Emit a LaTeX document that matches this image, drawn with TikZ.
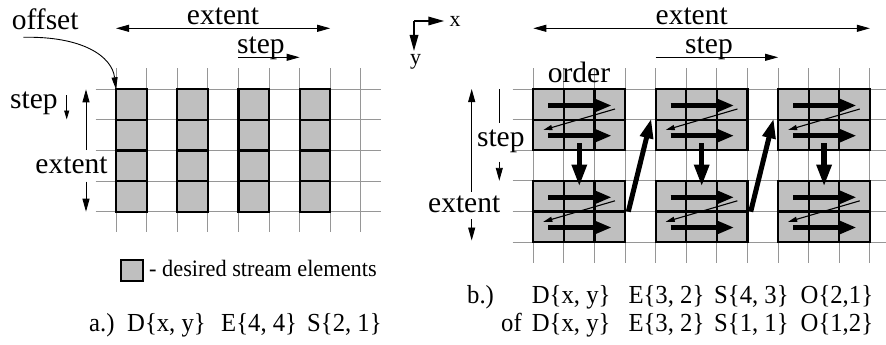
\documentclass[tikz,border=0pt]{standalone}
\usepackage{fontspec}
\setmainfont{Liberation Serif}
\newfontfamily\legfont[FakeStretch=0.95]{Liberation Serif}
\newfontfamily\capfont[FakeStretch=0.95]{Liberation Serif}
\usetikzlibrary{arrows.meta}
\definecolor{cellgray}{RGB}{191,191,191}
\definecolor{gridgray}{RGB}{150,150,150}
\tikzset{
  gridline/.style={draw=gridgray, line width=0.9pt},
  cellbox/.style={fill=cellgray, draw=black, line width=2.2pt},
  dimarrow/.style={line width=0.9pt, arrows={-Triangle[length=13pt,width=7pt]}},
  dimboth/.style={line width=0.9pt, arrows={Triangle[length=13pt,width=7pt]-Triangle[length=13pt,width=7pt]}},
  thickh/.style={line width=4.5pt, arrows={-Triangle[length=17pt,width=12.5pt]}},
  thickv/.style={line width=5.5pt, arrows={-Triangle[length=22pt,width=14pt]}},
  thind/.style={line width=1.1pt, arrows={-Triangle[length=9pt,width=5pt]}},
  axarrow/.style={line width=1.7pt, arrows={-Triangle[length=16pt,width=8.5pt]}},
  lbl/.style={inner sep=0pt, font=\fontsize{29.5}{32}\selectfont},
  axlbl/.style={inner sep=0pt, font=\fontsize{22}{24}\selectfont},
  captxt/.style={inner sep=0pt, anchor=base west, font=\capfont\fontsize{26}{28}\selectfont},
  legtxt/.style={inner sep=0pt, anchor=base west, font=\legfont\fontsize{23.5}{25}\selectfont},
}
\begin{document}
\begin{tikzpicture}[x=1pt,y=-1pt]
\useasboundingbox (0,0) rectangle (886,345);

% ---------- a.) left panel ----------
\foreach \k in {0,...,8}
  \draw[gridline] ({116+30.6*\k},68.3) -- ++(0,163.4);
\foreach \j in {0,...,4}
  \draw[gridline] (95.7,{89.3+30.6*\j}) -- (381,{89.3+30.6*\j});
\foreach \c in {0,2,4,6}
  \foreach \r in {0,...,3}
    \draw[cellbox] ({116+30.6*\c},{89.3+30.6*\r}) rectangle ++(30.6,30.6);

\node[lbl, anchor=base] (extTopL) at (223,25) {extent};
\draw[dimboth] (116,28.3) -- (330.2,28.3);
\node[lbl, anchor=base west] (stepTopL) at (237,53.3) {step};
\draw[dimarrow] (238.4,57.3) -- (299.6,57.3);

\node[lbl, anchor=base west] (offset) at (11.7,30) {offset};
\draw[line width=0.9pt, arrows={-Triangle[length=12pt,width=6pt]}]
  (23.3,37.3) .. controls (82,36) and (112,56) .. (116,89.3);

\node[lbl, anchor=base west] (stepL) at (10,108.3) {step};
\draw[line width=0.9pt, arrows={-Triangle[length=9pt,width=5pt]}] (66.7,95) -- (66.7,119.5);
\node[lbl, anchor=base] (extL) at (71.5,173.3) {extent};
\draw[dimarrow] (86,150) -- (86,89.3);
\draw[dimarrow] (86,181.7) -- (86,211.7);

% legend
\draw[cellbox, line width=2pt] (120.7,260) rectangle (142.7,280.7);
\node[legtxt] (legend) at (149,276.7) {- desired stream elements};

% caption a.)
\node[captxt] (ca1) at (89,331) {a.)};
\node[captxt] (ca2) at (127,331) {D\{x, y\}};
\node[captxt] (ca3) at (221,331) {E\{4, 4\}};
\node[captxt] (ca4) at (307,331) {S\{2, 1\}};

% ---------- b.) right panel ----------
\foreach \k in {0,...,11}
  \draw[gridline] ({533.3+30.6*\k},68.3) -- ++(0,194.4);
\foreach \j in {0,...,5}
  \draw[gridline] (512.7,{89+30.6*\j}) -- (886,{89+30.6*\j});

\foreach \i [evaluate=\i as \bx using 533.3+122.4*\i] in {0,1,2} {
  \foreach \j [evaluate=\j as \by using 89+91.8*\j] in {0,1} {
    \foreach \c in {0,1,2}
      \foreach \r in {0,1}
        \draw[cellbox] ({\bx+30.6*\c},{\by+30.6*\r}) rectangle ++(30.6,30.6);
    \draw[thickh] ({\bx+15},{\by+16.5}) -- ({\bx+78.4},{\by+16.5});
    \draw[thickh] ({\bx+15},{\by+46.7}) -- ({\bx+78.4},{\by+46.7});
    \draw[thind] ({\bx+81.7},{\by+20}) -- ({\bx+10},{\by+41});
  }
  \draw[thickv] ({\bx+46},143.3) -- ({\bx+46},186.7);
}
\foreach \i [evaluate=\i as \bx using 533.3+122.4*\i] in {0,1}
  \draw[thickv, line width=5pt, arrows={-Triangle[length=20pt,width=12.5pt]}]
    ({\bx+95},211.7) -- ({\bx+118},118.3);

% axes
\coordinate (ax0) at (414,21);
\coordinate (axX) at (444.3,21);
\coordinate (axY) at (414,51);
\draw[axarrow] (ax0) -- (axX);
\draw[axarrow] (ax0) -- (axY);
\node[axlbl, anchor=base] (xl) at (455,26.7) {x};
\node[axlbl, anchor=base] (yl) at (415.5,65) {y};

\node[lbl, anchor=base] (extTopR) at (691.7,25) {extent};
\draw[dimboth] (533.3,28.3) -- (869.9,28.3);
\node[lbl, anchor=base] (stepTopR) at (709,54) {step};
\draw[dimarrow] (655.7,57.3) -- (778.1,57.3);
\node[lbl, anchor=base] (order) at (579,82.7) {order};

\node[lbl, anchor=base] (stepR) at (500.8,146) {step};
\draw[line width=0.9pt] (499.3,89) -- (499.3,123.3);
\draw[dimarrow] (499.3,161.7) -- (499.3,180.8);
\node[lbl, anchor=base] (extR) at (464.2,212.5) {extent};
\draw[dimarrow] (471.7,191.7) -- (471.7,89);
\draw[dimarrow] (471.7,219) -- (471.7,240.5);

% caption b.)
\node[captxt] (cb1) at (467,303.5) {b.)};
\node[captxt] (cb2) at (531.7,303.5) {D\{x, y\}};
\node[captxt] (cb3) at (628.3,303.5) {E\{3, 2\}};
\node[captxt] (cb4) at (714,303.5) {S\{4, 3\}};
\node[captxt] (cb5) at (800.5,303.5) {O\{2,1\}};
\node[captxt] (cc1) at (501,331) {of};
\node[captxt] (cc2) at (531.7,331) {D\{x, y\}};
\node[captxt] (cc3) at (628.3,331) {E\{3, 2\}};
\node[captxt] (cc4) at (714,331) {S\{1, 1\}};
\node[captxt] (cc5) at (800.5,331) {O\{1,2\}};
\end{tikzpicture}
\end{document}
